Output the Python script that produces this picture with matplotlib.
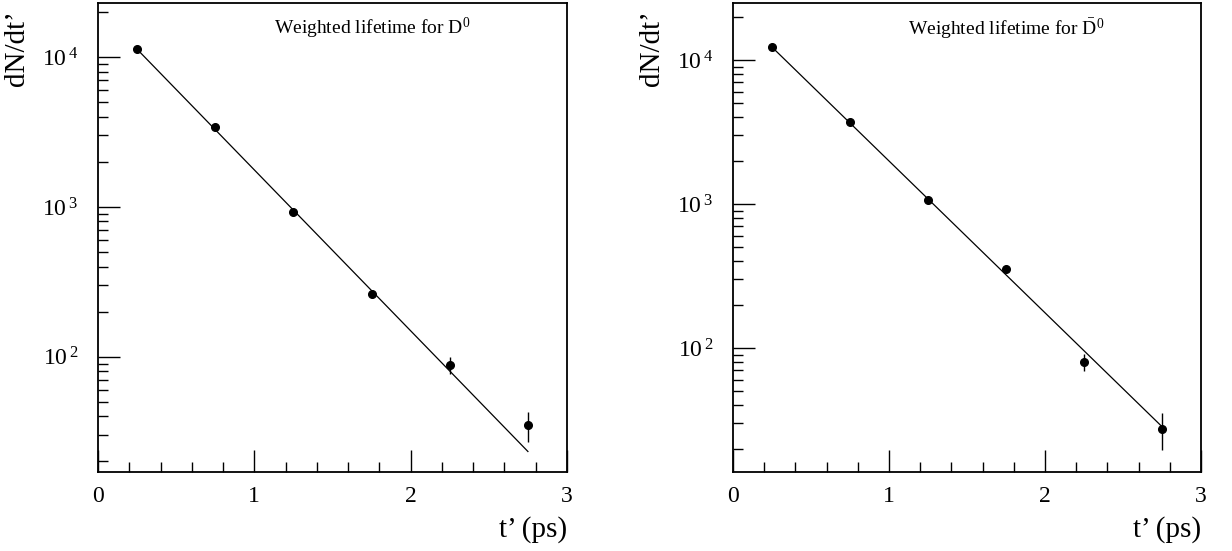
import numpy as np
import matplotlib.pyplot as plt
from matplotlib.ticker import FixedLocator, FuncFormatter, MultipleLocator

plt.rcParams.update({
    'font.family': 'Liberation Serif',
    'mathtext.fontset': 'custom',
    'mathtext.rm': 'Liberation Serif',
    'mathtext.it': 'Liberation Serif:italic',
    'mathtext.bf': 'Liberation Serif:bold',
    'axes.linewidth': 1.3,
})

# data
t = [0.25, 0.75, 1.25, 1.75, 2.25, 2.75]

d0_counts = [11300, 3415, 926, 263, 88, 35]
d0_err = [110, 60, 30, 16, 11, 8]
d0_fit_t = [0.25, 2.75]
d0_fit = [11300, 23.3]

d0bar_counts = [12300, 3710, 1066, 354, 80, 27.5]
d0bar_err = [115, 65, 33, 19, 11, 7.8]
d0bar_fit_t = [0.25, 2.75]
d0bar_fit = [12300, 28.5]

titles = ['Weighted lifetime for D$^0$', r'Weighted lifetime for $\bar{\mathrm{D}}^0$']
ylims = [(17, 23000), (13.8, 24900)]

fig = plt.figure(figsize=(12.32, 5.51), dpi=100)
ax1 = fig.add_axes([98/1232, 79/551, (567-98)/1232, (472-3)/551])
ax2 = fig.add_axes([733/1232, 79/551, (1201-733)/1232, (472-3)/551])

panels = [
    (ax1, d0_counts, d0_err, d0_fit_t, d0_fit),
    (ax2, d0bar_counts, d0bar_err, d0bar_fit_t, d0bar_fit),
]

for i, (ax, y, yerr, ft, fy) in enumerate(panels):
    ax.plot(ft, fy, color='black', lw=0.9)
    ax.errorbar(t, y, yerr=yerr, fmt='o', color='black', ms=5.5, elinewidth=1.0, capsize=0)
    ax.set_yscale('log')
    ax.set_xlim(0, 3)
    ax.set_ylim(*ylims[i])
    ax.xaxis.set_major_locator(MultipleLocator(1))
    ax.xaxis.set_minor_locator(MultipleLocator(0.2))
    ax.yaxis.set_major_locator(FixedLocator([1e2, 1e3, 1e4]))
    ax.yaxis.set_major_formatter(FuncFormatter(lambda v, p: r'$10\,^{%d}$' % round(np.log10(v))))
    ax.tick_params(axis='both', which='major', direction='in', length=16, width=1.0,
                   labelsize=17, top=False, right=False)
    ax.tick_params(axis='both', which='minor', direction='in', length=7.5, width=1.0,
                   top=False, right=False)
    ax.tick_params(axis='x', which='major', pad=10)
    ax.tick_params(axis='y', which='major', pad=14)
    ax.set_ylabel("dN/dt\u2019", fontsize=21)
    ax.yaxis.set_label_coords(-0.145, 0.985)
    ax.yaxis.label.set_horizontalalignment('right')
    ax.set_xlabel("t\u2019 (ps)", fontsize=21)
    ax.xaxis.set_label_coords(1.0, -0.095)
    ax.xaxis.label.set_horizontalalignment('right')
    ax.text(0.375, 0.945, titles[i], transform=ax.transAxes, fontsize=14,
            ha='left', va='center')

fig.savefig('out.png', dpi=100)
